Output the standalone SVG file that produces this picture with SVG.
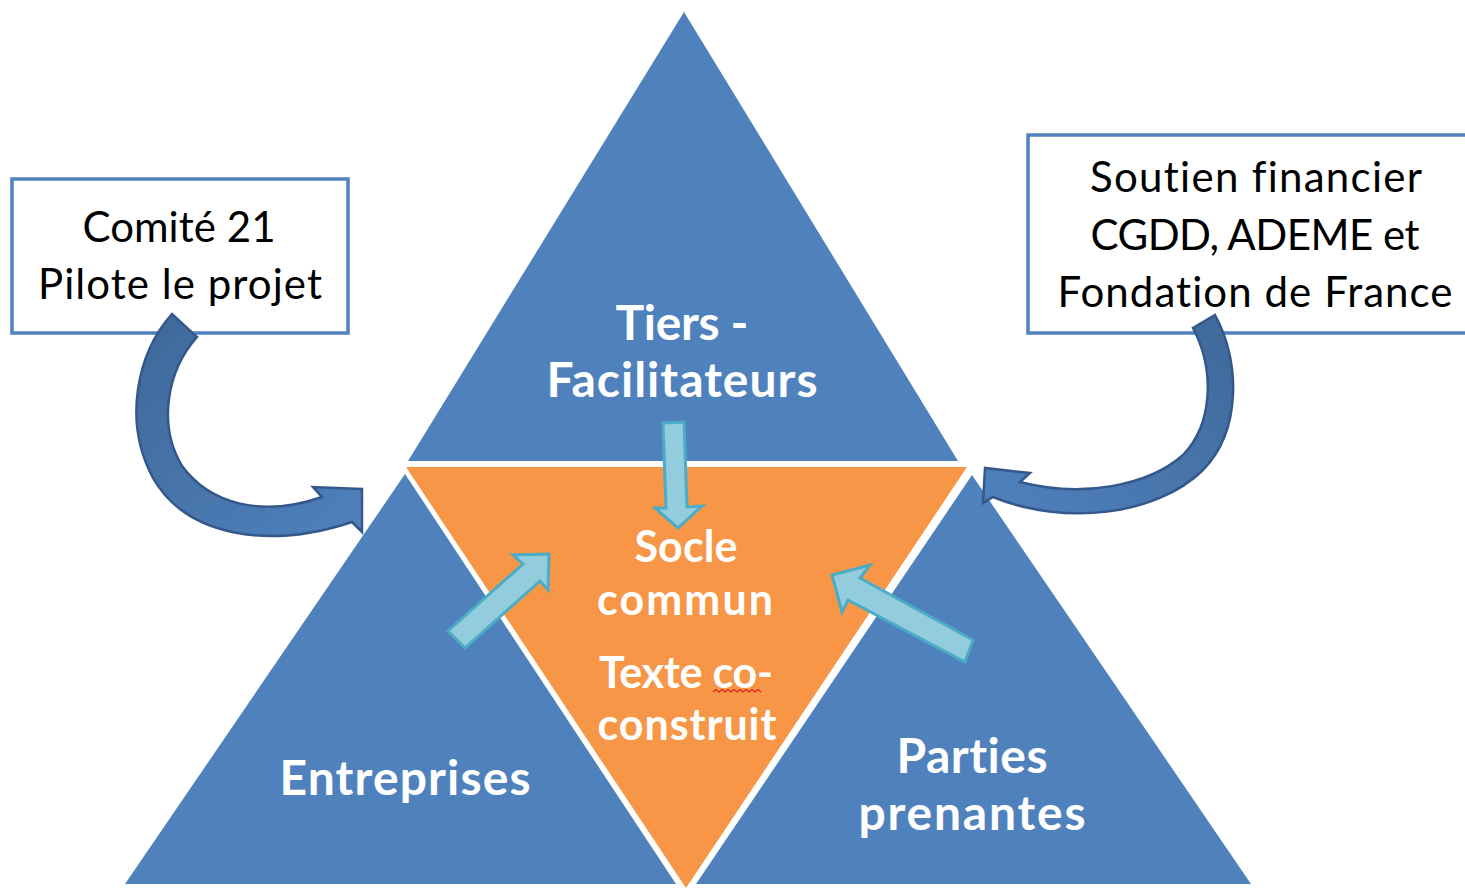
<svg xmlns="http://www.w3.org/2000/svg" width="1465" height="889" viewBox="0 0 1465 889">
<style>
text{font-variant-ligatures:none;font-feature-settings:"liga" 0,"clig" 0,"dlig" 0;}
.tri{fill:#4F81BD;}
.core{fill:#F79646;}
.lbl{font-family:Lato,"Open Sans","Liberation Sans",sans-serif;font-weight:bold;fill:#FFFFFF;text-anchor:middle;}
.big{font-size:48px;}
.mid{font-size:43px;}
.box{fill:#FFFFFF;stroke:#4F81BD;stroke-width:3.5;}
.btxt{font-family:Lato,"Open Sans","Liberation Sans",sans-serif;font-size:42px;fill:#000000;text-anchor:middle;}
.la{fill:#93CDDD;stroke:#4BACC6;stroke-width:3;stroke-linejoin:miter;}
.ca{fill:url(#cg);stroke:#34588A;stroke-width:2.5;stroke-linejoin:miter;}
.cb{fill:url(#cg2);stroke:#34588A;stroke-width:2.5;stroke-linejoin:miter;}
</style>
<defs>
<linearGradient id="cg" x1="0" y1="0" x2="1" y2="1">
<stop offset="0" stop-color="#3F6899"/>
<stop offset="1" stop-color="#4F81BD"/>
</linearGradient>
<linearGradient id="cg2" x1="1" y1="0" x2="0" y2="1">
<stop offset="0" stop-color="#3F6899"/>
<stop offset="1" stop-color="#4F81BD"/>
</linearGradient>
</defs>
<rect width="1465" height="889" fill="#FFFFFF"/>

<g id="tiers">
<polygon class="tri" points="684,12 958,461 408,461"/>
<text class="lbl big" x="682" y="340" textLength="133">Tiers -</text>
<text class="lbl big" x="682" y="397" textLength="271">Facilitateurs</text>
</g>

<g id="socle">
<polygon class="core" points="406,467 967,467 686,888"/>
<text class="lbl mid" x="686" y="562" textLength="103">Socle</text>
<text class="lbl mid" x="685" y="615" textLength="176">commun</text>
<text class="lbl mid" x="686" y="688" textLength="174">Texte co-</text>
<text class="lbl mid" x="687" y="740" textLength="179">construit</text>
<path d="M713,692 l3,-2.5 l3,2.5 l3,-2.5 l3,2.5 l3,-2.5 l3,2.5 l3,-2.5 l3,2.5 l3,-2.5 l3,2.5 l3,-2.5 l3,2.5 l3,-2.5 l3,2.5 l3,-2.5 l3,2.5" fill="none" stroke="#E02020" stroke-width="1.2"/>
</g>

<g id="entreprises">
<polygon class="tri" points="405,474 676,884 125,884"/>
<text class="lbl big" x="405" y="795" textLength="251">Entreprises</text>
</g>

<g id="parties">
<polygon class="tri" points="972,475 1251,884 696,884"/>
<text class="lbl big" x="972" y="773" textLength="151">Parties</text>
<text class="lbl big" x="972" y="830" textLength="227">prenantes</text>
</g>

<g id="comite">
<rect class="box" x="12" y="179" width="336" height="154"/>
<text class="btxt" x="179" y="242" textLength="193">Comité 21</text>
<text class="btxt" x="180" y="299" textLength="284">Pilote le projet</text>
</g>

<g id="soutien">
<rect class="box" x="1028" y="135" width="450" height="198"/>
<text class="btxt" x="1256" y="192" textLength="332">Soutien financier</text>
<text class="btxt" x="1255" y="250" textLength="329">CGDD, ADEME et</text>
<text class="btxt" x="1255" y="307" textLength="395">Fondation de France</text>
</g>

<g id="connectors">
<path class="ca" d="M172,314 C138,352 122,420 153,478 C186,536 268,550 352,522 L362,532 L362,489 L313,487 L322,497 C262,518 210,504 182,466 C158,426 166,372 197,337 Z"/>
<path class="cb" d="M1215,315 C1240,360 1242,430 1203,470 C1156,516 1064,526 993,497 L983,503 L985,468 L1030,473 L1020,482 C1082,498 1148,486 1183,455 C1213,424 1215,370 1193,328 Z"/>
<polygon class="la" points="663,423 684,422 687,507 702,506 678,528 655,508 666,508"/>
<polygon class="la" points="448,631 523,564 513,555 549,554 548,590 540,581 465,648"/>
<polygon class="la" points="973,640 860,578 870,565 832,575 842,612 848,600 965,662"/>
</g>
</svg>
